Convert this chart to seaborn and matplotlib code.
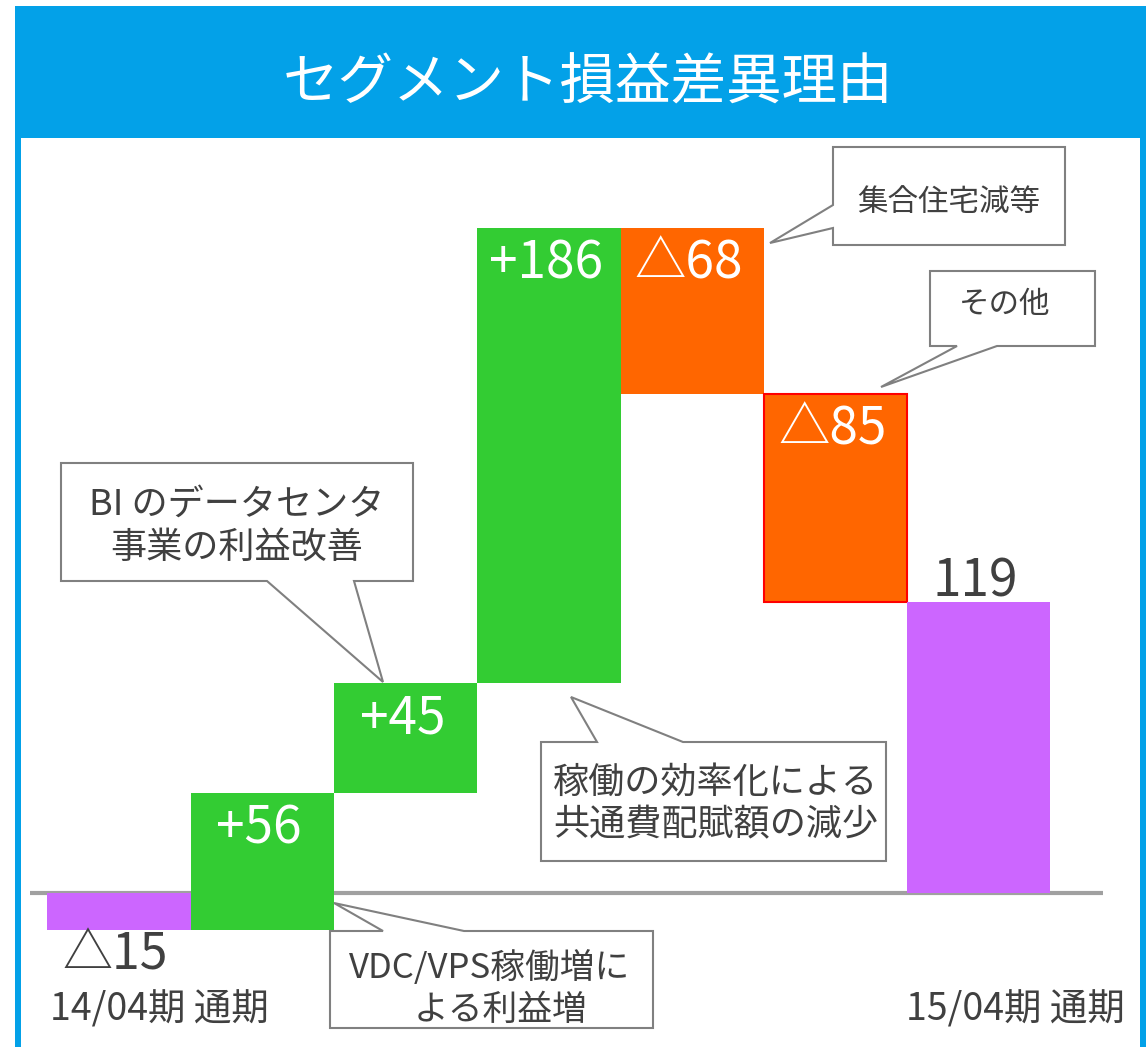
import numpy as np
import pandas as pd
import seaborn as sns
import matplotlib.pyplot as plt
from matplotlib.patches import Rectangle, Polygon
from matplotlib.transforms import Bbox

# data
steps = ['14/04期 通期', 'VDC/VPS', 'BI', '稼働効率化', '集合住宅', 'その他', '15/04期 通期']
start_value = -15
changes = [56, 45, 186, -68, -85]
end_value = 119
bar_colors = ['#CC66FF', '#33CC33', '#33CC33', '#33CC33', '#FF6600', '#FF6600', '#CC66FF']
title = 'セグメント損益差異理由'

W, H = 1147, 1047
sns.set_style('white')
plt.rcParams['font.family'] = ['Noto Sans CJK JP', 'DejaVu Sans']

GRAY_TXT = '#404040'
BLUE = '#03A1E8'


def fx(px):
    return px / W


def fy(py):
    return 1 - py / H


# waterfall heights / bottoms
heights = [start_value] + changes + [end_value]
running = np.cumsum([start_value] + changes)
bottoms = [0] + list(running[:-1]) + [0]
df = pd.DataFrame({'step': steps, 'height': heights, 'bottom': bottoms})

fig = plt.figure(figsize=(W / 100, H / 100), dpi=100)

# frame: blue header + border
fig.add_artist(Rectangle((fx(15), 0), fx(1146) - fx(15), fy(6), transform=fig.transFigure,
                         facecolor=BLUE, edgecolor='none', zorder=-10))
fig.add_artist(Rectangle((fx(21), 0), fx(1140) - fx(21), fy(138), transform=fig.transFigure,
                         facecolor='white', edgecolor='none', zorder=-9))
fig.text(fx(588), fy(84), title, color='white', fontsize=40, ha='center', va='center')

# axes placed in pixel terms: x 30..1103, y 140..1040, zero at y=893
px_per_unit = 2.445
ax = fig.add_axes([fx(30), fy(1040), fx(1103) - fx(30), fy(140) - fy(1040)])
sns.barplot(data=df, x='step', y='height', bottom=df['bottom'].values, width=1.0,
            errorbar=None, color='#33CC33', saturation=1, ax=ax, zorder=2)
for patch, c in zip(ax.patches, bar_colors):
    patch.set_facecolor(c)
    patch.set_edgecolor('none')
ax.patches[5].set_edgecolor('#FF0000')
ax.patches[5].set_linewidth(1.5)

ax.axhline(0, color='#A0A0A0', lw=3, zorder=1)
ax.set_xlim(-0.621, 6.867)
ax.set_ylim(-(1040 - 893) / px_per_unit, (893 - 140) / px_per_unit)
ax.axis('off')

pt = 72 / 100  # px -> points

# value labels
for i, (h, b) in enumerate(zip(heights, bottoms)):
    top = max(b, b + h)
    if i == 0:
        ax.annotate(f'△{-h}', (i, b + h), xytext=(-4 * pt, -26 * pt), textcoords='offset points',
                    ha='center', va='center', fontsize=36, color=GRAY_TXT, zorder=3)
    elif i == len(heights) - 1:
        ax.annotate(f'{h}', (i, top), xytext=(-4 * pt, 20 * pt), textcoords='offset points',
                    ha='center', va='center', fontsize=37, color=GRAY_TXT, zorder=3)
    else:
        lab = f'+{h}' if h > 0 else f'△{-h}'
        ax.annotate(lab, (i, top), xytext=(-3 * pt, -36 * pt), textcoords='offset points',
                    ha='center', va='center', fontsize=37, color='white', zorder=3)

# period labels
fig.text(fx(50), fy(1010), steps[0], ha='left', va='center', fontsize=27, color=GRAY_TXT)
fig.text(fx(1125), fy(1010), steps[-1], ha='right', va='center', fontsize=27, color=GRAY_TXT)


# callouts
def callout(pts, lines, centers, size, clip=None):
    poly = Polygon([(fx(x), fy(y)) for x, y in pts], closed=True, transform=fig.transFigure,
                   facecolor='white', edgecolor='#808080', lw=1.5, zorder=5)
    fig.add_artist(poly)
    for line, (cx, cy, ha) in zip(lines, centers):
        t = fig.text(fx(cx), fy(cy), line, ha=ha, va='center', fontsize=size,
                     color=GRAY_TXT, zorder=6)
        if clip is not None:
            t.set_clip_box(Bbox.from_extents(clip[0], H - clip[3], clip[2], H - clip[1]))
            t.set_clip_on(True)


callout([(833, 147), (1065, 147), (1065, 245), (833, 245), (833, 228), (770, 243), (833, 205)],
        ['集合住宅減等'], [(949, 203, 'center')], 22)
callout([(930, 271), (1095, 271), (1095, 346), (997, 346), (881, 387), (957, 346), (930, 346)],
        ['その他'], [(1005, 305, 'center')], 22)
callout([(61, 463), (413, 463), (413, 581), (354, 581), (383, 682), (267, 581), (61, 581)],
        ['BI のデータセンタ', '事業の利益改善'], [(237, 505, 'center'), (237, 548, 'center')], 26)
callout([(541, 742), (597, 742), (571, 697), (683, 742), (886, 742), (886, 861), (541, 861)],
        ['稼働の効率化による', '共通費配賦額の減少'], [(553, 783, 'left'), (553, 825, 'left')], 26)
callout([(330, 931), (383, 931), (334, 903), (464, 931), (653, 931), (653, 1028), (330, 1028)],
        ['VDC/VPS稼働増に', 'よる利益増'], [(349, 968, 'left'), (501, 1010, 'center')], 25,
        clip=(330, 931, 653, 1028))

fig.savefig('out.png', dpi=100)
